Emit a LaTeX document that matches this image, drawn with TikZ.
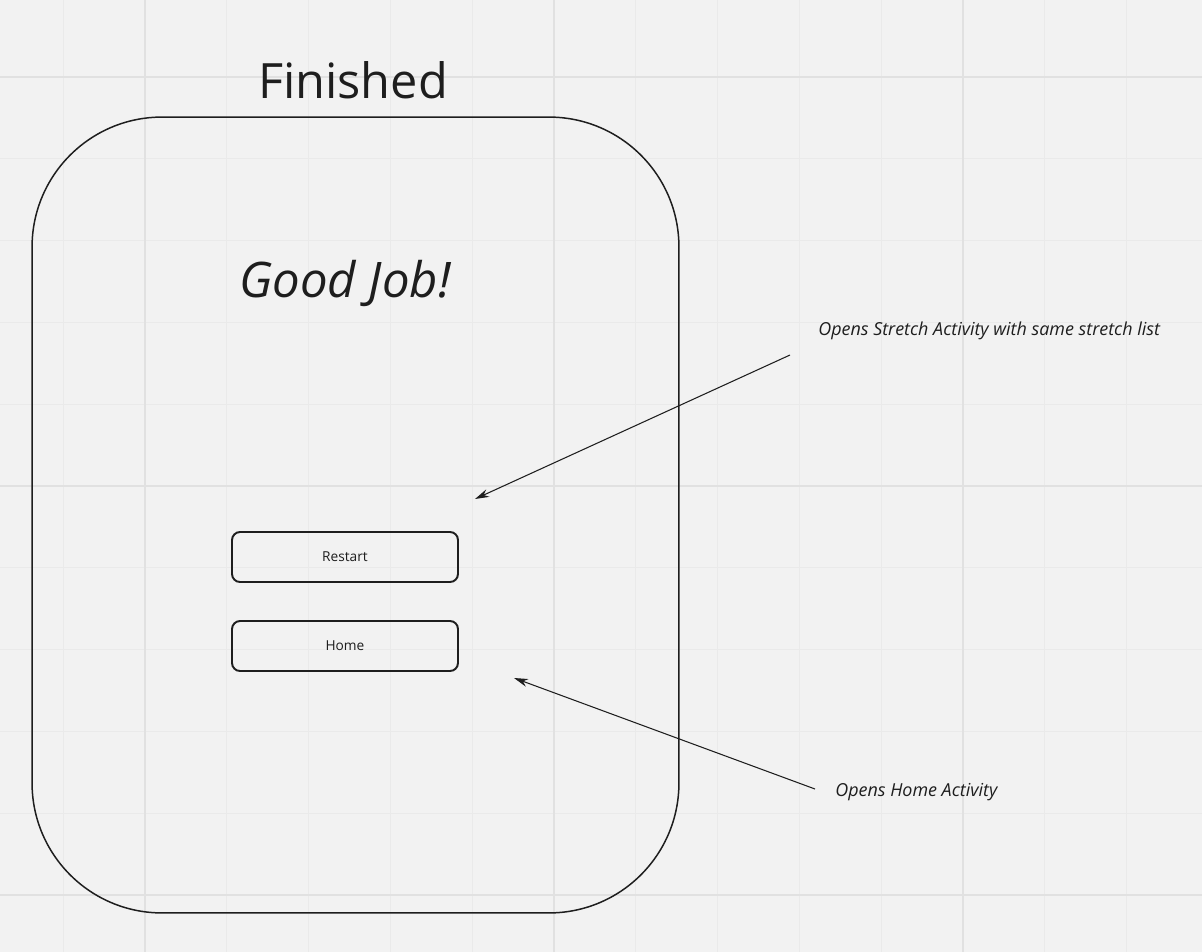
\documentclass[tikz,border=0pt]{standalone}
\usepackage{fontspec}
\setmainfont{Open Sans}
\usepackage{tikz}
\usetikzlibrary{arrows.meta}

\definecolor{board}{HTML}{F2F2F2}
\definecolor{gridminor}{HTML}{EAEAEA}
\definecolor{gridmajor}{HTML}{E1E1E1}
\definecolor{ink}{HTML}{1E1E1E}

\tikzset{
  button/.style={draw=ink, line width=1.1pt, rounded corners=0.16cm,
    minimum width=4.52cm, minimum height=1cm, inner sep=0pt,
    font=\fontsize{7.8pt}{9pt}\selectfont, text=ink},
  note/.style={anchor=base west, inner sep=0pt, text=ink,
    font=\fontsize{10.2pt}{12pt}\selectfont\itshape},
  pointer/.style={draw=ink, line width=0.6pt, -{Stealth[length=8pt,width=4.6pt]}}
}

\begin{document}
\begin{tikzpicture}[x=0.02cm, y=-0.02cm]
                \useasboundingbox[fill=board] (0,0) rectangle (1202,952);
                % background grid
                \foreach \k in {-1,...,13} {
                    \draw[gridminor, line width=0.6pt] ({145+81.8*\k},0) -- ({145+81.8*\k},952);
                }
                \foreach \k in {-1,...,11} {
                    \draw[gridminor, line width=0.6pt] (0,{77+81.8*\k}) -- (1202,{77+81.8*\k});
                }
                \foreach \x in {145,554,963} \draw[gridmajor, line width=1.1pt] (\x,0) -- (\x,952);
                \foreach \y in {77,486,895} \draw[gridmajor, line width=1.1pt] (0,\y) -- (1202,\y);

                \node[draw=ink, line width=0.85pt, rounded corners=2.6cm, minimum width=12.94cm,
                      minimum height=15.92cm, inner sep=0pt] (screen) at (355.5,515) {};
                \node[anchor=base, text=ink, font=\fontsize{27.7pt}{32pt}\selectfont] (title) at (353,99) {Finished};
                \node[anchor=base, text=ink, font=\fontsize{27.9pt}{33pt}\selectfont\itshape] (praise) at (345,298) {Good Job!};

                \node[button] (restart) at (345,557) {Restart};
                \node[button] (home) at (345,646) {Home};

                \node[note] (restartnote) at (818,336) {Opens Stretch Activity with same stretch list};
                \node[note] (homenote) at (835,796) {Opens Home Activity};

                \coordinate (restartfrom) at (790,355);
                \coordinate (restarttip) at (475,499);
                \coordinate (homefrom) at (815,789);
                \coordinate (hometip) at (514,678);
                \draw[pointer] (restartfrom) -- (restarttip);
                \draw[pointer] (homefrom) -- (hometip);
            \end{tikzpicture}
\end{document}
